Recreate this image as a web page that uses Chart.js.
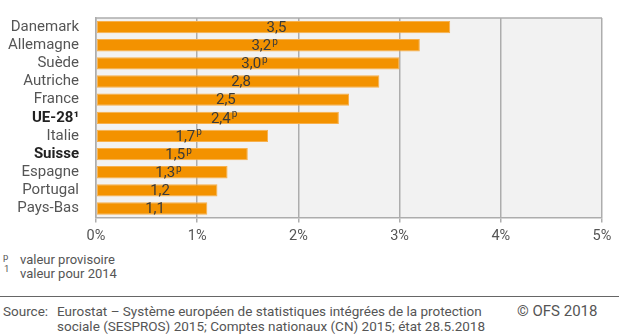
<!DOCTYPE html>
<html>
<head>
<meta charset="utf-8">
<script src="https://cdn.jsdelivr.net/npm/chart.js@4.4.0/dist/chart.umd.min.js"></script>
<style>
  body { margin: 0; background: #fff; font-family: Roboto, sans-serif; color: #555; }
  #wrap { position: relative; width: 619px; height: 250px; }
  .notes { position: absolute; left: 0; top: 250px; font-size: 13px; color: #555; }
  .notes div { position: absolute; white-space: nowrap; }
  .sup { font-size: 9.5px; }
  .rule { position: absolute; left: 0; top: 296px; width: 619px; height: 1px; background: #666; }
  .src { position: absolute; top: 304px; font-size: 13.5px; line-height: 15px; color: #555; white-space: nowrap; }
</style>
</head>
<body>
<div id="wrap"><canvas id="chart" width="619" height="250"></canvas></div>
<div class="notes">
  <div class="sup" style="left:3px;top:1px">p</div>
  <div style="left:20px;top:2px">valeur provisoire</div>
  <div class="sup" style="left:4px;top:13px">1</div>
  <div style="left:20px;top:16px">valeur pour 2014</div>
</div>
<div class="rule"></div>
<div class="src" style="left:3px">Source:</div>
<div class="src" style="left:57px">Eurostat – Système européen de statistiques intégrées de la protection<br>sociale (SESPROS) 2015; Comptes nationaux (CN) 2015; état 28.5.2018</div>
<div class="src" style="left:517px;font-size:15px">© OFS 2018</div>
<script>
// données
const countries = ['Danemark', 'Allemagne', 'Suède', 'Autriche', 'France', 'UE-28¹', 'Italie', 'Suisse', 'Espagne', 'Portugal', 'Pays-Bas'];
const values = [3.5, 3.2, 3.0, 2.8, 2.5, 2.4, 1.7, 1.5, 1.3, 1.2, 1.1];
const provisional = [false, true, true, false, false, true, true, true, true, false, false];
const boldRows = ['UE-28¹', 'Suisse'];
const xTicks = [0, 1, 2, 3, 4, 5];

const ORANGE = '#f39200';
const GRID = '#adadad';
const TEXT = '#555555';

// fond gris + ligne du haut
const plotBg = {
    id: 'plotBg',
    beforeDraw(chart) {
        const { ctx, chartArea: a } = chart;
        ctx.save();
        ctx.fillStyle = '#f2f2f2';
        ctx.fillRect(a.left, a.top, a.right - a.left, a.bottom - a.top);
        ctx.restore();
    },
    afterDraw(chart) {
        const { ctx, chartArea: a } = chart;
        ctx.save();
        ctx.strokeStyle = GRID;
        ctx.lineWidth = 1.5;
        ctx.beginPath();
        ctx.moveTo(a.left, a.top);
        ctx.lineTo(a.right, a.top);
        ctx.stroke();
        ctx.restore();
    }
};

// étiquettes de valeur au centre des barres
const valueLabels = {
    id: 'valueLabels',
    afterDatasetsDraw(chart) {
        const { ctx } = chart;
        const meta = chart.getDatasetMeta(0);
        ctx.save();
        ctx.fillStyle = '#3a3a3a';
        ctx.textBaseline = 'middle';
        meta.data.forEach((bar, i) => {
            const txt = values[i].toFixed(1).replace('.', ',');
            const cx = (bar.base + bar.x) / 2 + 3;
            ctx.font = '15px Roboto';
            const w = ctx.measureText(txt).width;
            ctx.textAlign = 'left';
            ctx.fillText(txt, cx - w / 2, bar.y + 1);
            if (provisional[i]) {
                ctx.font = '10px Roboto';
                ctx.fillText('p', cx + w / 2 + 1, bar.y - 3);
            }
        });
        ctx.restore();
    }
};

new Chart(document.getElementById('chart'), {
    type: 'bar',
    data: {
        labels: countries,
        datasets: [{
            data: values,
            backgroundColor: ORANGE,
            borderColor: '#f7b04d',
            borderWidth: 1,
            borderSkipped: false,
            barPercentage: 0.68,
            categoryPercentage: 1
        }]
    },
    options: {
        indexAxis: 'y',
        responsive: false,
        animation: false,
        layout: { padding: { top: 7, right: 17, left: 0, bottom: 0 } },
        plugins: { legend: { display: false }, tooltip: { enabled: false } },
        scales: {
            x: {
                min: 0,
                max: 5,
                afterBuildTicks: (scale) => { scale.ticks = xTicks.map(v => ({ value: v })); },
                grid: { color: GRID, lineWidth: 1.5, tickLength: 5, drawTicks: true },
                border: { color: GRID, width: 1.5 },
                ticks: {
                    color: TEXT,
                    font: { family: 'Roboto', size: 14.5 },
                    padding: 5,
                    callback: (v) => v + '%'
                }
            },
            y: {
                afterFit: (scale) => { scale.width = 96; },
                grid: { display: false },
                border: { color: GRID, width: 1.5 },
                ticks: {
                    autoSkip: false,
                    color: (c) => boldRows.includes(countries[c.index]) ? '#222' : TEXT,
                    font: (c) => ({
                        family: 'Roboto',
                        size: 15,
                        weight: boldRows.includes(countries[c.index]) ? 'bold' : 'normal'
                    }),
                    padding: 9
                }
            }
        }
    },
    plugins: [plotBg, valueLabels]
});
</script>
</body>
</html>
